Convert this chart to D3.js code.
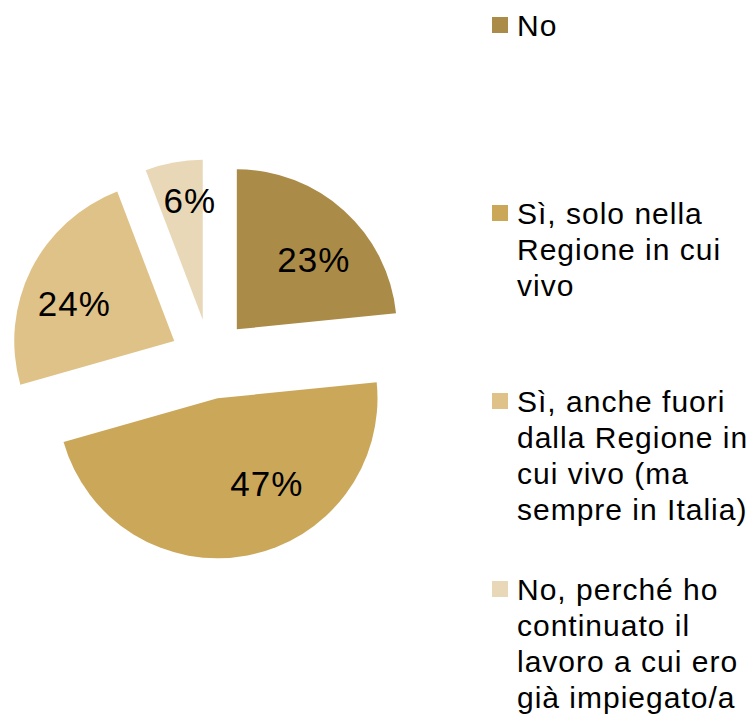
<!DOCTYPE html>
<html>
<head>
<meta charset="utf-8">
<script src="https://cdn.jsdelivr.net/npm/d3@7"></script>
<style>
  body { margin: 0; background: #fff; }
  text { font-family: "Liberation Sans", Arial, sans-serif; fill: #000; }
</style>
</head>
<body>
<div id="chart"></div>
<script>
// data (shares; labels show them rounded)
const categories = [
  "No",
  "Sì, solo nella Regione in cui vivo",
  "Sì, anche fuori dalla Regione in cui vivo (ma sempre in Italia)",
  "No, perché ho continuato il lavoro a cui ero già impiegato/a"
];
const shares = [23.4, 47.2, 23.6, 5.8];
const legendLines = [
  ["No"],
  ["Sì, solo nella", "Regione in cui", "vivo"],
  ["Sì, anche fuori", "dalla Regione in", "cui vivo (ma", "sempre in Italia)"],
  ["No, perché ho", "continuato il", "lavoro a cui ero", "già impiegato/a"]
];
const colors = ["#AB8B48", "#CBA75A", "#DFC287", "#E9D8B8"];

// layout
const width = 748, height = 715;
const cx = 210, cy = 359;
const radius = 160;
const explode = 40;
// label placement: distance from the slice tip and angle shift (deg) off the bisector
const labelDist = [104, 98, 107, 120];
const labelShift = [5.6, -19.4, -5.8, 4.2];

var svg = d3.select('#chart').append('svg')
  .attr('width', width)
  .attr('height', height);

var pie = d3.pie().sort(null).value(d => d);
var arcs = pie(shares);

var arc = d3.arc().innerRadius(0).outerRadius(radius);

var fmt = d3.format(".0f");

var slices = svg.append('g')
  .attr('transform', `translate(${cx},${cy})`);

var g = slices.selectAll('g.slice')
  .data(arcs)
  .enter().append('g')
  .attr('class', 'slice')
  .attr('transform', function(d) {
    var mid = (d.startAngle + d.endAngle) / 2;
    return `translate(${explode * Math.sin(mid)},${-explode * Math.cos(mid)})`;
  });

g.append('path')
  .attr('d', arc)
  .attr('fill', (d, i) => colors[i]);

g.append('text')
  .attr('x', function(d, i) {
    var a = (d.startAngle + d.endAngle) / 2 + labelShift[i] * Math.PI / 180;
    return labelDist[i] * Math.sin(a);
  })
  .attr('y', function(d, i) {
    var a = (d.startAngle + d.endAngle) / 2 + labelShift[i] * Math.PI / 180;
    return -labelDist[i] * Math.cos(a);
  })
  .attr('dy', '0.36em')
  .attr('text-anchor', 'middle')
  .style('font-size', '35px')
  .style('letter-spacing', '1px')
  .text(d => fmt(d.data) + "%");

// legend
const legendX = 492, legendTop = 36, legendStep = 188, lineH = 36;

var legend = svg.append('g').attr('class', 'legend');

var item = legend.selectAll('g.item')
  .data(categories)
  .enter().append('g')
  .attr('class', 'item')
  .attr('transform', (d, i) => `translate(${legendX},${legendTop + i * legendStep})`);

item.append('rect')
  .attr('x', 0)
  .attr('y', -19)
  .attr('width', 16)
  .attr('height', 16)
  .attr('fill', (d, i) => colors[i]);

item.append('text')
  .attr('x', 25)
  .style('font-size', '30px')
  .style('letter-spacing', '1px')
  .selectAll('tspan')
  .data((d, i) => legendLines[i])
  .enter().append('tspan')
  .attr('x', 25)
  .attr('y', (d, j) => j * lineH)
  .text(d => d);
</script>
</body>
</html>
